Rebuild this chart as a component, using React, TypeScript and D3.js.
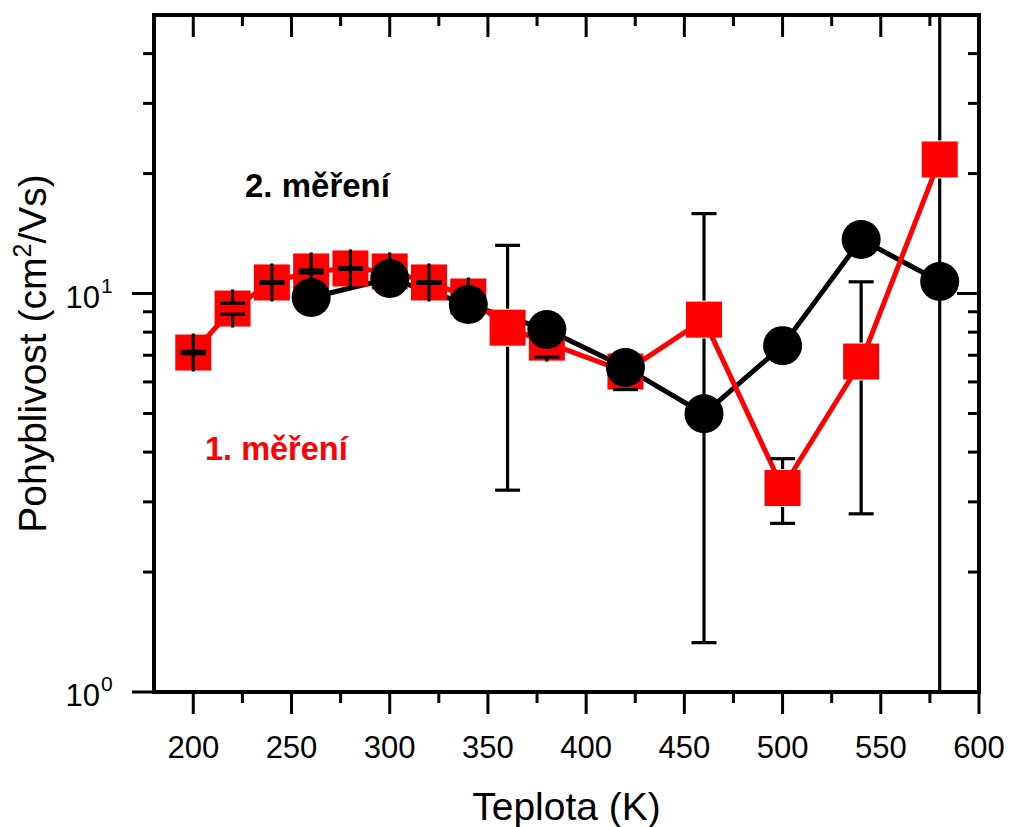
import React from 'react';
import * as d3 from 'd3';

const temps1 = [200, 220, 240, 260, 280, 300, 320, 340, 360, 380, 420, 460, 500, 540, 580];
const mobility1 = [7.11, 9.17, 10.66, 11.36, 11.56, 11.36, 10.66, 9.83, 8.21, 7.53, 6.37, 8.6, 3.25, 6.75, 21.7];
const error1 = [0.05, 0.29, 0.05, 0.1, 0.05, 0.1, 0.05, 0.1, 5.0, 0.6, 0.63, 7.27, 0.6, 3.95, 35];
const temps2 = [260, 300, 340, 380, 420, 460, 500, 540, 580];
const mobility2 = [9.77, 10.91, 9.38, 8.12, 6.52, 4.99, 7.4, 13.67, 10.72];

const xMajorTicks = [200, 250, 300, 350, 400, 450, 500, 550, 600];
const xMinorTicks = [225, 275, 325, 375, 425, 475, 525, 575];
const yMajorTicks = [1, 10];
const yMajorExp = ['0', '1'];
const yMinorTicks = [2, 3, 4, 5, 6, 7, 8, 9, 20, 30, 40];

const label1 = '1. měření';
const label2 = '2. měření';
const xTitle = 'Teplota (K)';

const W = 1011;
const H = 827;
const L = 154;
const R = 979;
const T = 15;
const B = 692;
const FONT = '"Liberation Sans", Arial, Helvetica, sans-serif';

export default function App() {
  const x = d3.scaleLinear().domain([180, 600]).range([L, R]);
  const y = d3.scaleLog().domain([1, 50]).range([B, T]);

  const line = d3
    .line<[number, number]>()
    .x((d) => x(d[0]))
    .y((d) => y(d[1]));

  const pts1: [number, number][] = temps1.map((t, i) => [t, mobility1[i]]);
  const pts2: [number, number][] = temps2.map((t, i) => [t, mobility2[i]]);

  const sq = 36;
  const half = 19;
  const cap = 12.5;

  const errBars = temps1.map((t, i) => {
    const v = mobility1[i];
    const e = error1[i];
    const cx = x(t);
    const cy = y(v);
    const top = y(v + e);
    const bot = v - e > 0 ? y(v - e) : B + 200;
    return (
      <g key={'e' + i}>
        <line x1={cx} x2={cx} y1={top} y2={cy - half} />
        <line x1={cx} x2={cx} y1={bot} y2={cy + half} />
        <line x1={cx - cap} x2={cx + cap} y1={top} y2={top} />
        <line x1={cx - cap} x2={cx + cap} y1={bot} y2={bot} />
      </g>
    );
  });

  return (
    <svg width={W} height={H} style={{ position: 'absolute', left: 0, top: 0, background: '#fff' }}>
      <defs>
        <clipPath id="plotclip">
          <rect x={L} y={T} width={R - L} height={B - T} />
        </clipPath>
      </defs>
      <rect x={0} y={0} width={W} height={H} fill="#fff" />

      <g clipPath="url(#plotclip)">
        <path d={line(pts2) || ''} fill="none" stroke="#000" strokeWidth={5} strokeLinejoin="round" />
        <path d={line(pts1) || ''} fill="none" stroke="#ff0000" strokeWidth={5} strokeLinejoin="round" />
        {pts1.map((p, i) => (
          <rect key={'s' + i} x={x(p[0]) - sq / 2} y={y(p[1]) - sq / 2} width={sq} height={sq} fill="#ff0000" />
        ))}
        <g stroke="#000" strokeWidth={3.2}>{errBars}</g>
        {pts2.map((p, i) => (
          <circle key={'c' + i} cx={x(p[0])} cy={y(p[1])} r={19.5} fill="#000" />
        ))}
      </g>

      {/* ticks */}
      <g stroke="#000" strokeWidth={3}>
        {xMajorTicks.map((t) => (
          <g key={'xM' + t}>
            <line x1={x(t)} x2={x(t)} y1={B} y2={B + 22} />
            <line x1={x(t)} x2={x(t)} y1={T} y2={T + 22} />
          </g>
        ))}
        {xMinorTicks.map((t) => (
          <g key={'xm' + t}>
            <line x1={x(t)} x2={x(t)} y1={B} y2={B + 11} />
            <line x1={x(t)} x2={x(t)} y1={T} y2={T + 11} />
          </g>
        ))}
        {yMajorTicks.map((t) => (
          <g key={'yM' + t}>
            <line x1={L - 22} x2={L} y1={y(t)} y2={y(t)} />
            <line x1={R - 22} x2={R} y1={y(t)} y2={y(t)} />
          </g>
        ))}
        {yMinorTicks.map((t) => (
          <g key={'ym' + t}>
            <line x1={L - 11} x2={L} y1={y(t)} y2={y(t)} />
            <line x1={R - 11} x2={R} y1={y(t)} y2={y(t)} />
          </g>
        ))}
      </g>

      {/* frame */}
      <rect x={L} y={T} width={R - L} height={B - T} fill="none" stroke="#000" strokeWidth={4} />

      {/* tick labels */}
      <g fontFamily={FONT} fontSize={31} fill="#000">
        {xMajorTicks.map((t) => (
          <text key={'xl' + t} x={x(t)} y={758} textAnchor="middle">
            {t}
          </text>
        ))}
        {yMajorTicks.map((t, i) => (
          <g key={'yl' + t}>
            <text x={100} y={y(t) + 14} textAnchor="end">
              10
            </text>
            <text x={101} y={y(t) - 1} fontSize={21} textAnchor="start">
              {yMajorExp[i]}
            </text>
          </g>
        ))}
      </g>

      {/* axis titles */}
      <text x={(L + R) / 2} y={820} textAnchor="middle" fontFamily={FONT} fontSize={39} fill="#000">
        {xTitle}
      </text>
      <text
        transform={`translate(46, ${(T + B) / 2}) rotate(-90)`}
        textAnchor="middle"
        fontFamily={FONT}
        fontSize={39}
        fill="#000"
      >
        Pohyblivost (cm
        <tspan fontSize={25} dy={-15}>2</tspan>
        <tspan dy={15}>/Vs)</tspan>
      </text>

      {/* annotations */}
      <text x={245} y={197} fontFamily={FONT} fontSize={33} fontWeight="bold" fill="#000">
        {label2}
      </text>
      <text x={205} y={460} fontFamily={FONT} fontSize={32.5} fontWeight="bold" fill="#ff0000">
        {label1}
      </text>
    </svg>
  );
}
